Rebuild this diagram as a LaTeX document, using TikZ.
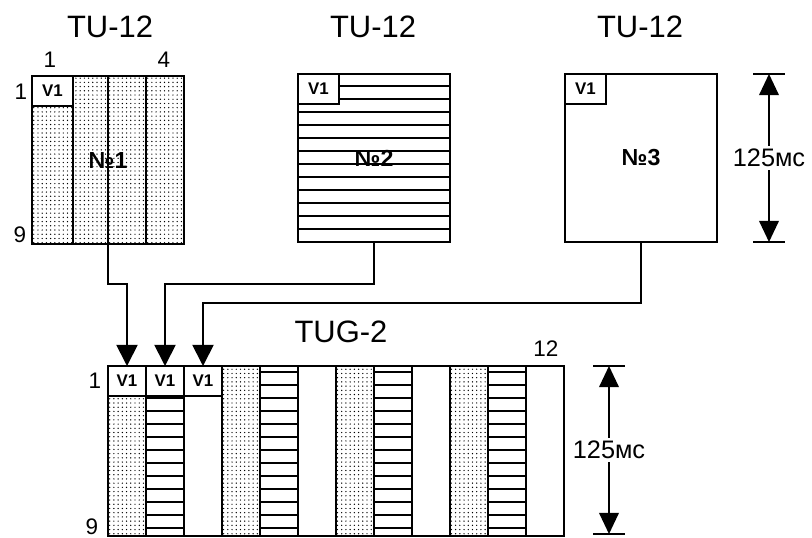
\documentclass[tikz,border=0pt]{standalone}
\usepackage{fontspec}
\setmainfont{Liberation Sans}
\usetikzlibrary{patterns, arrows.meta, calc}

\tikzset{
  ramka/.style={draw, line width=1.3pt},
  polosa/.style={line width=1pt},
  tochki/.style={pattern=dots, pattern color=black},
  yach/.style={draw, fill=white, line width=1.3pt, inner sep=0pt, outer sep=0pt,
    minimum width=1.025cm, minimum height=0.75cm, font=\bfseries\fontsize{12}{13}\selectfont},
  yachg/.style={yach, minimum width=0.95cm},
  tubox/.style={ramka, inner sep=0pt, outer sep=0pt, minimum width=3.8cm, minimum height=4.2cm, anchor=north west},
  zag/.style={font=\fontsize{22}{24}\selectfont},
  num/.style={font=\fontsize{16}{18}\selectfont},
  nomer/.style={font=\bfseries\fontsize{16.5}{18}\selectfont},
  razm/.style={font=\fontsize{18}{20}\selectfont, fill=white, inner sep=2pt},
  conn/.style={line width=1.3pt, -{Triangle[length=15pt, width=15pt]}},
  dim/.style={line width=1pt, {Triangle[length=15pt, width=14pt]}-{Triangle[length=15pt, width=14pt]}}
}

\begin{document}
\begin{tikzpicture}[x=0.025cm, y=-0.025cm]
        \useasboundingbox (0,0) rectangle (812,538);

        %TU-12 n.1 (tochki)
        \node[tubox, tochki] (tu1) at (32,76) {};
        \foreach \x in {73,108,146}
            \draw[ramka] (\x,76) -- (\x,244);
        \node[yach, anchor=north west] (v1a) at (32,76) {V1};
        \node[nomer] (n1) at (tu1.center) {№1};

        %TU-12 n.2 (polosy)
        \node[tubox] (tu2) at (298,74) {};
        \foreach \k in {0,...,11}
            \draw[polosa] (298,{86+13*\k}) -- (450,{86+13*\k});
        \node[yach, anchor=north west] (v1b) at (298,74) {V1};
        \node[nomer] (n2) at (tu2.center) {№2};

        %TU-12 n.3 (pustoj)
        \node[tubox] (tu3) at (565,74) {};
        \node[yach, anchor=north west] (v1c) at (565,74) {V1};
        \node[nomer] (n3) at (tu3.center) {№3};

        %podpisi sverhu
        \node[zag] (z1) at (110,27) {TU-12};
        \node[zag] (z2) at (373,27) {TU-12};
        \node[zag] (z3) at (640,27) {TU-12};
        \node[num] (c1) at (50,60) {1};
        \node[num] (c4) at (164,60) {4};
        \node[num] (r1) at (21,92) {1};
        \node[num] (r9) at (20,235) {9};

        %TUG-2
        \node[inner sep=0pt, outer sep=0pt, minimum width=11.4cm, minimum height=4.25cm, anchor=north west] (tug) at (108,366) {};
        \foreach \x in {108,222,336,450}
            \fill[tochki] (\x,366) rectangle ++(38,170);
        \foreach \x in {146,260,374,488}
            \foreach \k in {0,...,12}
                \draw[polosa] (\x,{372+13*\k}) -- ++(38,0);
        \foreach \i in {1,...,11}
            \draw[ramka] ({108+38*\i},366) -- ++(0,170);
        \draw[ramka] (tug.north west) rectangle (tug.south east);
        \node[yachg, anchor=north west] (g1) at (108,366) {V1};
        \node[yachg, anchor=north west] (g2) at (146,366) {V1};
        \node[yachg, anchor=north west] (g3) at (184,366) {V1};

        \node[zag] (z4) at (341,332) {TUG-2};
        \node[num] (c12) at (546,349) {12};
        \node[num] (s1) at (95,381) {1};
        \node[num] (s9) at (92,527) {9};

        %soedinenija
        \draw[conn] (tu1.south) -- ++(0,40) -| (g1.north);
        \draw[conn] (tu2.south) -- ++(0,42) -| (g2.north);
        \draw[conn] (tu3.south) -- ++(0,61) -| (g3.north);

        %razmery 125mc
        \coordinate (d1a) at (769,74);
        \coordinate (d1b) at (769,242);
        \draw[line width=1pt] (753,74) -- (785,74) (753,242) -- (785,242);
        \draw[dim] (d1a) -- (d1b) node[midway, razm] (m1) {125мс};
        %----
        \coordinate (d2a) at (609,366);
        \coordinate (d2b) at (609,534);
        \draw[line width=1pt] (593,366) -- (625,366) (593,534) -- (625,534);
        \draw[dim] (d2a) -- (d2b) node[midway, razm] (m2) {125мс};
\end{tikzpicture}
\end{document}
